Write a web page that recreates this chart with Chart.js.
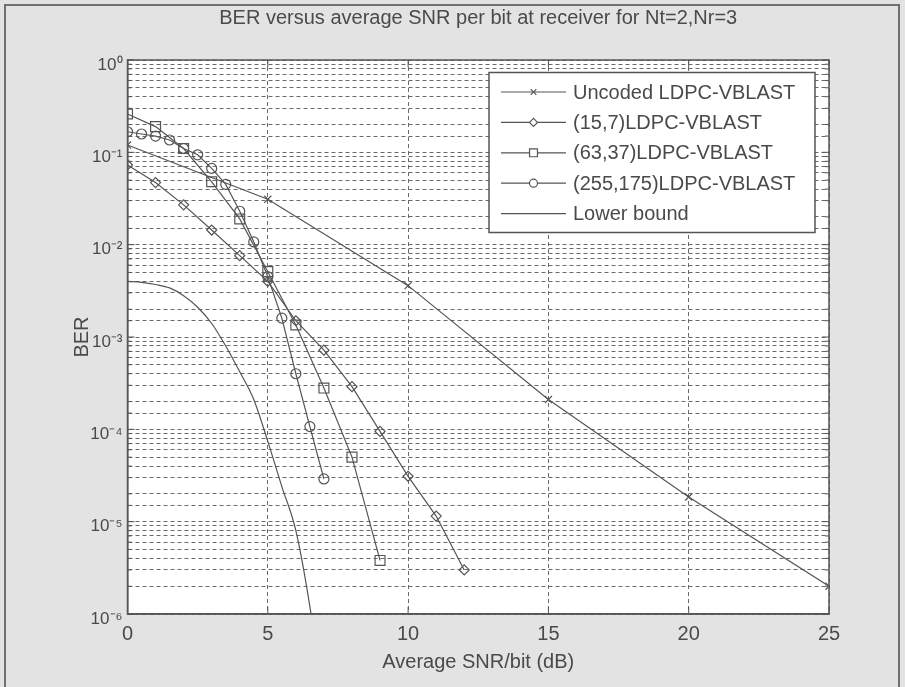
<!DOCTYPE html>
<html><head><meta charset="utf-8">
<script src="https://cdn.jsdelivr.net/npm/chart.js@4.4.1/dist/chart.umd.min.js"></script>
<style>
html,body{margin:0;padding:0;background:#e3e3e3;overflow:hidden;}
#wrap{position:relative;width:905px;height:687px;}
#frame{position:absolute;left:4px;top:4px;width:896px;height:700px;border:2px solid #707070;box-sizing:border-box;}
canvas{position:absolute;left:0;top:0;}
</style></head><body>
<div id="wrap"><div id="frame"></div><canvas id="c" width="905" height="687"></canvas></div>
<script>
// ---- data ----
const chartTitle = 'BER versus average SNR per bit at receiver for Nt=2,Nr=3';
const xLabel = 'Average SNR/bit (dB)';
const yLabel = 'BER';
const seriesNames = ['Uncoded LDPC-VBLAST', '(15,7)LDPC-VBLAST', '(63,37)LDPC-VBLAST', '(255,175)LDPC-VBLAST', 'Lower bound'];
const xTickValues = [0, 5, 10, 15, 20, 25];

const uncodedSNR = [0, 5, 10, 15, 20, 25];
const uncodedBER = [0.12, 0.031, 0.0036, 2.1e-4, 1.85e-5, 2.0e-6];

const ldpc15SNR = [0, 1, 2, 3, 4, 5, 6, 7, 8, 9, 10, 11, 12];
const ldpc15BER = [0.073, 0.047, 0.027, 0.0144, 0.0076, 0.0040, 0.0015, 7.2e-4, 2.9e-4, 9.5e-5, 3.1e-5, 1.15e-5, 3.0e-6];

const ldpc63SNR = [0, 1, 2, 3, 4, 5, 6, 7, 8, 9];
const ldpc63BER = [0.26, 0.19, 0.11, 0.048, 0.019, 0.0051, 0.00135, 2.8e-4, 5.0e-5, 3.8e-6];

const ldpc255SNR = [0, 0.5, 1, 1.5, 2, 2.5, 3, 3.5, 4, 4.5, 5, 5.5, 6, 6.5, 7];
const ldpc255BER = [0.167, 0.158, 0.15, 0.136, 0.11, 0.094, 0.067, 0.045, 0.023, 0.0107, 0.0045, 0.0016, 4.0e-4, 1.07e-4, 2.9e-5];

const boundSNR = [0, 0.5, 1, 1.5, 2, 2.5, 3, 3.5, 4, 4.5, 5, 5.5, 6, 6.5, 7];
const boundBER = [0.0040, 0.0039, 0.0037, 0.0034, 0.0028, 0.0021, 0.0014, 8.0e-4, 4.2e-4, 2.1e-4, 7.4e-5, 2.4e-5, 8.0e-6, 1.2e-6, 1.0e-7];

// ---- styling ----
const ink = '#4a4a4a';
const lineCol = '#555555';
const gridCol = '#6a6a6a';
const FONT = 'Liberation Sans, Arial, sans-serif';
const pts = (xs, ys) => xs.map((x, i) => ({x: x, y: ys[i]}));
const markerStyles = ['crossRot', 'rectRot', 'rect', 'circle', false];
const markerRadii = [5, 5, 7, 5, 0];
const sup = {'0':'\u2070','1':'\u00b9','2':'\u00b2','3':'\u00b3','4':'\u2074','5':'\u2075','6':'\u2076','7':'\u2077','8':'\u2078','9':'\u2079','-':'\u207b'};

const seriesData = [
  pts(uncodedSNR, uncodedBER),
  pts(ldpc15SNR, ldpc15BER),
  pts(ldpc63SNR, ldpc63BER),
  pts(ldpc255SNR, ldpc255BER),
  pts(boundSNR, boundBER)
];

const datasets = seriesData.map((d, i) => ({
  label: seriesNames[i],
  data: d,
  borderColor: lineCol,
  backgroundColor: 'rgba(0,0,0,0)',
  borderWidth: 1.2,
  pointStyle: markerStyles[i],
  pointRadius: markerRadii[i],
  pointBorderColor: lineCol,
  pointBackgroundColor: 'rgba(0,0,0,0)',
  pointBorderWidth: 1.2,
  tension: i === 4 ? 0.4 : 0,
  cubicInterpolationMode: i === 4 ? 'monotone' : 'default'
}));

const framePlugin = {
  id: 'framePlugin',
  beforeDraw(chart) {
    const {ctx, chartArea: a} = chart;
    ctx.save();
    ctx.fillStyle = '#ffffff';
    ctx.fillRect(a.left, a.top, a.right - a.left, a.bottom - a.top);
    ctx.restore();
  },
  afterDraw(chart) {
    const {ctx, chartArea: a, scales} = chart;
    ctx.save();
    // box
    ctx.strokeStyle = '#555';
    ctx.lineWidth = 1.5;
    ctx.strokeRect(a.left, a.top, a.right - a.left, a.bottom - a.top);
    // inward ticks
    ctx.lineWidth = 1;
    ctx.beginPath();
    scales.y.ticks.forEach(t => {
      const y = scales.y.getPixelForValue(t.value);
      const L = t.major ? 7 : 4;
      ctx.moveTo(a.left, y); ctx.lineTo(a.left + L, y);
      ctx.moveTo(a.right, y); ctx.lineTo(a.right - L, y);
    });
    scales.x.ticks.forEach(t => {
      const x = scales.x.getPixelForValue(t.value);
      ctx.moveTo(x, a.bottom); ctx.lineTo(x, a.bottom - 7);
      ctx.moveTo(x, a.top); ctx.lineTo(x, a.top + 7);
    });
    ctx.stroke();

    // legend box (top right inside plot)
    const bw = 326, bh = 160;
    const bx = a.right - 14 - bw, by = a.top + 12.5;
    ctx.fillStyle = '#ffffff';
    ctx.fillRect(bx, by, bw, bh);
    ctx.strokeStyle = '#555';
    ctx.lineWidth = 1.5;
    ctx.strokeRect(bx, by, bw, bh);
    ctx.font = '20px ' + FONT;
    ctx.textBaseline = 'middle';
    chart.data.datasets.forEach((ds, i) => {
      const ry = by + 19.5 + i * 30.4;
      const x0 = bx + 12, x1 = bx + 77;
      ctx.strokeStyle = lineCol;
      ctx.lineWidth = 1.2;
      ctx.beginPath(); ctx.moveTo(x0, ry); ctx.lineTo(x1, ry); ctx.stroke();
      if (ds.pointStyle) {
        ctx.fillStyle = '#ffffff';
        Chart.helpers.drawPoint(ctx, {pointStyle: ds.pointStyle, radius: Math.max(3.5, ds.pointRadius * 0.8), borderWidth: 1.2, rotation: 0}, (x0 + x1) / 2, ry);
      }
      ctx.fillStyle = ink;
      ctx.fillText(ds.label, bx + 84, ry + 1);
    });
    ctx.restore();
  }
};

new Chart(document.getElementById('c'), {
  type: 'line',
  data: {datasets: datasets},
  options: {
    responsive: false,
    animation: false,
    devicePixelRatio: 1,
    layout: {padding: {left: 75, right: 76, top: 0, bottom: 0}},
    plugins: {
      legend: {display: false},
      tooltip: {enabled: false},
      title: {
        display: true, text: chartTitle, fullSize: false,
        color: ink, font: {family: FONT, size: 20, weight: 'normal', lineHeight: 1.2},
        padding: {top: 6, bottom: 30}
      }
    },
    scales: {
      x: {
        type: 'linear', min: 0, max: 25,
        afterBuildTicks(s) { s.ticks = xTickValues.map(v => ({value: v})); },
        afterFit(s) { s.height = 73; },
        ticks: {color: ink, font: {family: FONT, size: 20}, padding: 8, maxRotation: 0},
        grid: {color: gridCol, lineWidth: 1, drawTicks: false},
        border: {display: true, color: '#555', width: 1.5, dash: [4, 3]},
        title: {display: true, text: xLabel, color: ink, font: {family: FONT, size: 20}, padding: {top: 0, bottom: 13}}
      },
      y: {
        type: 'logarithmic', min: 1e-6, max: 1,
        afterFit(s) { s.width = 52.5; },
        ticks: {
          color: ink, font: {family: FONT, size: 17}, padding: 5, autoSkip: false, labelOffset: 5,
          callback(v) {
            const e = Math.log10(v);
            if (Math.abs(e - Math.round(e)) > 1e-9) return '';
            return '10' + String(Math.round(e)).split('').map(c => sup[c]).join('');
          }
        },
        grid: {color: gridCol, lineWidth: 1, drawTicks: false},
        border: {display: true, color: '#555', width: 1.5, dash: [4, 3]},
        title: {display: true, text: yLabel, color: ink, font: {family: FONT, size: 20}, padding: {top: -5, bottom: 0}}
      }
    }
  },
  plugins: [framePlugin]
});
</script>
</body></html>
